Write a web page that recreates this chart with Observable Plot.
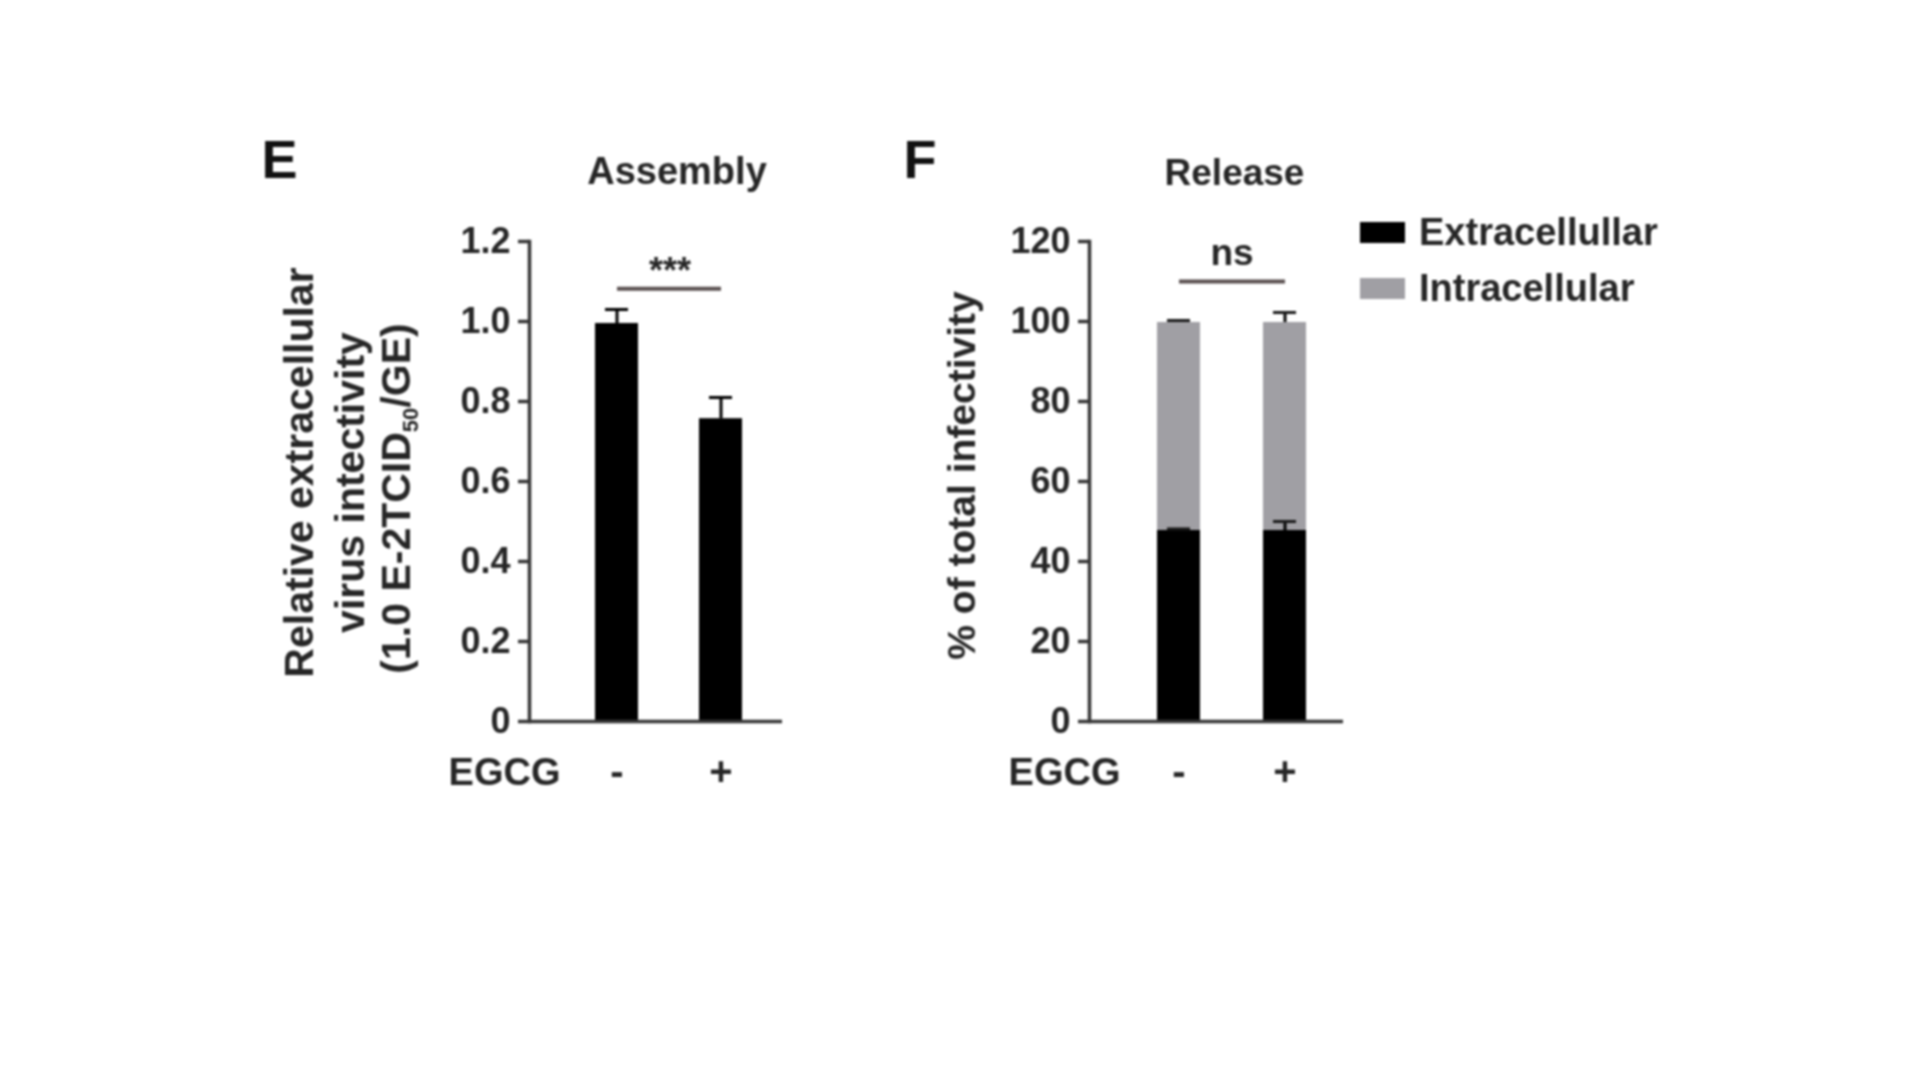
<!DOCTYPE html>
<html>
<head>
<meta charset="utf-8">
<script src="https://cdn.jsdelivr.net/npm/d3@7"></script>
<script src="https://cdn.jsdelivr.net/npm/@observablehq/plot@0.6"></script>
<style>
  html, body { margin: 0; padding: 0; background: #ffffff; }
  #chart { position: relative; width: 1920px; height: 1080px; background: #ffffff; overflow: hidden; filter: blur(1.1px); }
  #chart svg.panel { position: absolute; top: 0; }
  #legend { position: absolute; left: 1360px; top: 211px; }
  #legend .lg-swatches-wrap { display: flex; flex-direction: column; align-items: flex-start; font-family: "Liberation Sans", Arial, sans-serif; font-size: 38px; font-weight: 700; color: #262626; margin: 0; min-height: 0; }
  #legend .lg-swatch { display: flex; align-items: center; height: 42px; line-height: 42px; margin: 0 0 14px 0; }
  #legend .lg-swatch > svg { margin-right: 14px; }
</style>
</head>
<body>
<div id="chart"><div id="legend"></div></div>
<script>
// ---------- data ----------
const egcgLevels = ["-", "+"];
const xAxisTitle = "EGCG";

// Panel E: Assembly
const panelELetter = "E";
const assemblyTitle = "Assembly";
const assemblyMeans = [0.995, 0.757];
const assemblyErrors = [0.035, 0.053];
const assemblyTicks = [0, 0.2, 0.4, 0.6, 0.8, 1.0, 1.2];
const assemblySigLabel = "***";
const assemblySigY = 1.082;
const assemblyYLabel1 = "Relative extracellular";
const assemblyYLabel2 = "virus intectivity";
const assemblyYLabel3Parts = ["(1.0 E-2TCID", "50", "/GE)"];

// Panel F: Release
const panelFLetter = "F";
const releaseTitle = "Release";
const releaseTypes = ["Extracellullar", "Intracellular"];
const releaseColors = ["#000000", "#a09fa4"];
const releaseExtra = [47.75, 47.75];
const releaseIntra = [52.0, 52.0];
const releaseExtraErr = [0.4, 2.25];
const releaseTotalErr = [0.5, 2.5];
const releaseTicks = [0, 20, 40, 60, 80, 100, 120];
const releaseSigLabel = "ns";
const releaseSigY = 110;
const releaseYLabel = "% of total infectivity";

// ---------- shared styling ----------
const FONT = '"Liberation Sans", Arial, Helvetica, sans-serif';
const TEXT = "#262626";
const AXIS = "#363636";
const SIG = "#5a5050";
const svgStyle = {background: "transparent", fontFamily: FONT, overflow: "visible", color: TEXT};

// ---------- Panel E ----------
const assemblyRows = egcgLevels.map((g, i) => ({egcg: g, mean: assemblyMeans[i], err: assemblyErrors[i]}));
const assemblyLabel3 = assemblyYLabel3Parts.join("");

const svgE = Plot.plot({
  width: 900, height: 1080,
  marginLeft: 529, marginRight: 118, marginTop: 241, marginBottom: 359,
  style: svgStyle,
  x: {type: "band", domain: egcgLevels, paddingInner: 0.59, paddingOuter: 0.5, align: 0.62},
  y: {domain: [0, 1.2]},
  marks: [
    Plot.barY(assemblyRows, {x: "egcg", y: "mean", fill: "#000000"}),
    Plot.ruleX(assemblyRows, {x: "egcg", y1: "mean", y2: d => d.mean + d.err, stroke: "#000000", strokeWidth: 3}),
    Plot.tickY(assemblyRows, {x: "egcg", y: d => d.mean + d.err, stroke: "#000000", strokeWidth: 3, insetLeft: 10, insetRight: 10}),
    Plot.frame({anchor: "left", stroke: AXIS, strokeWidth: 3.5}),
    Plot.ruleY([0], {stroke: AXIS, strokeWidth: 3.5}),
    Plot.axisY({ticks: assemblyTicks, tickFormat: d => d === 0 ? "0" : d.toFixed(1), tickSize: 11, tickPadding: 8,
      fontSize: 36, fontWeight: 700, color: AXIS, fill: TEXT, strokeWidth: 3.5, label: null}),
    Plot.axisX({tickSize: 0, tickPadding: 35, fontSize: 40, fontWeight: 700, color: AXIS, fill: TEXT, label: null}),
    Plot.link([assemblySigY], {x1: () => egcgLevels[0], x2: () => egcgLevels[1], y1: d => d, y2: d => d, stroke: SIG, strokeWidth: 4}),
    Plot.text([assemblySigLabel], {x: () => egcgLevels[0], y: () => assemblySigY, text: d => d, dx: 53, dy: -6, lineAnchor: "bottom", fontSize: 36, fontWeight: 700, fill: TEXT}),
    Plot.text([assemblyTitle], {frameAnchor: "top", text: d => d, dx: 21, dy: -70, lineAnchor: "middle", fontSize: 38, fontWeight: 700, fill: TEXT}),
    Plot.text([panelELetter], {frameAnchor: "top-left", text: d => d, textAnchor: "start", dx: -268, dy: -81, lineAnchor: "middle", fontSize: 54, fontWeight: 700, fill: "#111111"}),
    Plot.text([xAxisTitle], {frameAnchor: "bottom-left", text: d => d, textAnchor: "end", dx: 31, dy: 51, lineAnchor: "middle", fontSize: 38, fontWeight: 700, fill: TEXT}),
    Plot.text([assemblyYLabel1], {frameAnchor: "left", text: d => d, rotate: -90, textAnchor: "middle", lineAnchor: "bottom", dx: -217, dy: -9, fontSize: 41, fontWeight: 700, fill: TEXT}),
    Plot.text([assemblyYLabel2], {frameAnchor: "left", text: d => d, rotate: -90, textAnchor: "middle", lineAnchor: "bottom", dx: -166, dy: 1, fontSize: 41, fontWeight: 700, fill: TEXT}),
    Plot.text([assemblyLabel3], {frameAnchor: "left", text: d => d, rotate: -90, textAnchor: "middle", lineAnchor: "bottom", dx: -120, dy: 17, fontSize: 41, fontWeight: 700, fill: TEXT})
  ]
});
svgE.classList.add("panel");
svgE.style.left = "0px";

// subscript "50" in the third y-label line
d3.select(svgE).selectAll("text").filter(function() { return this.textContent === assemblyLabel3; }).each(function() {
  const t = d3.select(this);
  t.text(null);
  t.append("tspan").text(assemblyYLabel3Parts[0]);
  t.append("tspan").attr("font-size", 22).attr("dy", 8).text(assemblyYLabel3Parts[1]);
  t.append("tspan").attr("dy", -8).text(assemblyYLabel3Parts[2]);
});

// ---------- Panel F ----------
const releaseRows = [];
egcgLevels.forEach((g, i) => {
  releaseRows.push({egcg: g, type: releaseTypes[0], value: releaseExtra[i]});
  releaseRows.push({egcg: g, type: releaseTypes[1], value: releaseIntra[i]});
});
const releaseErrRows = [];
egcgLevels.forEach((g, i) => {
  releaseErrRows.push({egcg: g, top: releaseExtra[i], err: releaseExtraErr[i]});
  releaseErrRows.push({egcg: g, top: releaseExtra[i] + releaseIntra[i], err: releaseTotalErr[i]});
});

const svgF = Plot.plot({
  width: 1020, height: 1080,
  marginLeft: 189, marginRight: 577, marginTop: 241, marginBottom: 359,
  style: svgStyle,
  x: {type: "band", domain: egcgLevels, paddingInner: 0.598, paddingOuter: 0.486, align: 0.644},
  y: {domain: [0, 120]},
  color: {domain: releaseTypes, range: releaseColors},
  marks: [
    Plot.barY(releaseRows, {x: "egcg", y: "value", fill: "type"}),
    Plot.ruleX(releaseErrRows, {x: "egcg", y1: "top", y2: d => d.top + d.err, stroke: "#000000", strokeWidth: 3}),
    Plot.tickY(releaseErrRows, {x: "egcg", y: d => d.top + d.err, stroke: "#1a1a1a", strokeWidth: 3, insetLeft: 10, insetRight: 10}),
    Plot.frame({anchor: "left", stroke: AXIS, strokeWidth: 3.5}),
    Plot.ruleY([0], {stroke: AXIS, strokeWidth: 3.5}),
    Plot.axisY({ticks: releaseTicks, tickFormat: d => String(d), tickSize: 11, tickPadding: 8,
      fontSize: 36, fontWeight: 700, color: AXIS, fill: TEXT, strokeWidth: 3.5, label: null}),
    Plot.axisX({tickSize: 0, tickPadding: 35, fontSize: 40, fontWeight: 700, color: AXIS, fill: TEXT, label: null}),
    Plot.link([releaseSigY], {x1: () => egcgLevels[0], x2: () => egcgLevels[1], y1: d => d, y2: d => d, stroke: SIG, strokeWidth: 4}),
    Plot.text([releaseSigLabel], {x: () => egcgLevels[0], y: () => releaseSigY, text: d => d, dx: 53, dy: -17, lineAnchor: "bottom", fontSize: 37, fontWeight: 700, fill: TEXT}),
    Plot.text([releaseTitle], {frameAnchor: "top", text: d => d, dx: 18, dy: -68, lineAnchor: "middle", fontSize: 37, fontWeight: 700, fill: TEXT}),
    Plot.text([panelFLetter], {frameAnchor: "top-left", text: d => d, textAnchor: "start", dx: -186, dy: -81, lineAnchor: "middle", fontSize: 54, fontWeight: 700, fill: "#111111"}),
    Plot.text([xAxisTitle], {frameAnchor: "bottom-left", text: d => d, textAnchor: "end", dx: 31, dy: 51, lineAnchor: "middle", fontSize: 38, fontWeight: 700, fill: TEXT}),
    Plot.text([releaseYLabel], {frameAnchor: "left", text: d => d, rotate: -90, textAnchor: "middle", lineAnchor: "bottom", dx: -115, dy: -6, fontSize: 39, fontWeight: 700, fill: TEXT})
  ]
});
svgF.classList.add("panel");
svgF.style.left = "900px";

const chart = document.getElementById("chart");
chart.appendChild(svgE);
chart.appendChild(svgF);

// ---------- legend ----------
const legend = Plot.legend({
  color: {type: "categorical", domain: releaseTypes, range: releaseColors},
  legend: "swatches",
  swatchWidth: 45, swatchHeight: 21,
  className: "lg"
});
document.getElementById("legend").appendChild(legend);
</script>
</body>
</html>
